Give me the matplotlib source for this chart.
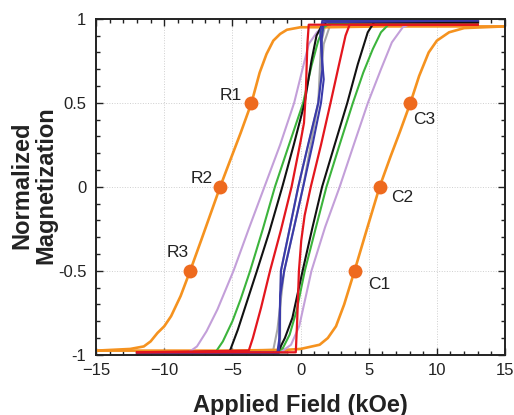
import matplotlib
matplotlib.use("Agg")
import matplotlib.pyplot as plt
from matplotlib.ticker import MultipleLocator

# --- loop data: (field in kOe, normalized M) ---
# outer loop (orange), descending then ascending branch
H_or_dn = [15, 6, 2, 0, -1, -1.5, -2, -2.5, -3, -3.6, -4.4, -5.2, -5.9, -6.6, -7.3, -8.1,
           -8.8, -9.5, -10, -10.5, -11, -11.5, -12.5, -15]
M_or_dn = [0.955, 0.955, 0.95, 0.95, 0.935, 0.91, 0.87, 0.79, 0.68, 0.5, 0.32, 0.15, 0.0,
           -0.16, -0.32, -0.5, -0.65, -0.77, -0.83, -0.87, -0.92, -0.95, -0.965, -0.975]
H_or_up = [-15, -5, -1, 0, 1.4, 2.0, 2.6, 3.2, 3.96, 4.8, 5.8, 6.6, 7.3, 8.06, 8.7, 9.4,
           10, 10.9, 12, 15]
M_or_up = [-0.975, -0.975, -0.97, -0.965, -0.94, -0.9, -0.83, -0.7, -0.5, -0.27, 0.0,
           0.18, 0.33, 0.5, 0.66, 0.8, 0.87, 0.92, 0.945, 0.955]

# lavender loop
H_lv_dn = [13, 2.5, 1.8, 1.2, 0.6, -0.47, -1.5, -2.65, -3.8, -4.92, -6.1, -6.9, -7.6, -8.2, -12]
M_lv_dn = [0.975, 0.975, 0.96, 0.92, 0.85, 0.5, 0.25, 0.0, -0.25, -0.5, -0.73, -0.86, -0.95,
           -0.985, -0.99]
H_lv_up = [-12, -2.0, -1.3, -0.7, -0.1, 0.8, 1.8, 2.87, 3.9, 4.94, 5.9, 6.7, 7.5, 8.2, 13]
M_lv_up = [-0.99, -0.99, -0.975, -0.94, -0.83, -0.5, -0.24, 0.0, 0.25, 0.5, 0.7, 0.86, 0.95,
           0.975, 0.975]

# green loop
H_gr_dn = [13, 2.2, 1.7, 1.3, 0.8, 0.19, -0.85, -1.88, -2.8, -3.7, -4.4, -5.0, -5.7, -6.2, -12]
M_gr_dn = [0.975, 0.975, 0.95, 0.87, 0.72, 0.5, 0.25, 0.0, -0.26, -0.5, -0.67, -0.8, -0.92,
           -0.98, -0.99]
H_gr_up = [-12, -1.8, -1.3, -0.8, -0.3, 0.31, 1.1, 1.9, 2.9, 3.84, 4.6, 5.3, 5.9, 6.5, 13]
M_gr_up = [-0.99, -0.99, -0.96, -0.88, -0.74, -0.5, -0.25, 0.0, 0.26, 0.5, 0.68, 0.82, 0.92,
           0.97, 0.975]

# black loop
H_bk_dn = [13, 1.9, 1.5, 1.17, 0.8, 0.3, -0.5, -1.34, -2.3, -3.2, -4.0, -4.6, -5.2, -12]
M_bk_dn = [0.98, 0.98, 0.95, 0.9, 0.75, 0.5, 0.25, 0.0, -0.27, -0.5, -0.7, -0.85, -0.98, -0.99]
H_bk_up = [-12, -1.7, -1.15, -0.6, 0.15, 0.85, 1.58, 2.5, 3.43, 4.2, 4.93, 5.4, 13]
M_bk_up = [-0.99, -0.99, -0.9, -0.78, -0.5, -0.25, 0.0, 0.25, 0.5, 0.73, 0.92, 0.98, 0.98]

# blue loop (narrow, with small hooks)
H_bl_dn = [13, 1.6, 1.45, 1.55, 1.7, 1.5, 0.9, 0.19, -0.5, -1.2, -1.5, -1.55, -1.7, -12]
M_bl_dn = [0.99, 0.99, 0.92, 0.78, 0.64, 0.5, 0.26, 0.0, -0.25, -0.5, -0.65, -0.9, -0.985, -0.99]
H_bl_up = [-12, -1.6, -1.55, -1.5, -1.44, -0.8, -0.17, 0.55, 1.3, 1.6, 1.55, 1.7, 13]
M_bl_up = [-0.99, -0.99, -0.9, -0.68, -0.5, -0.25, 0.0, 0.25, 0.5, 0.7, 0.88, 0.98, 0.99]

# red loop (square-ish)
H_rd_dn = [13, 0.6, 0.5, 0.38, 0.25, 0.0, -0.66, -1.45, -2.24, -2.9, -3.5, -3.8, -12]
M_rd_dn = [0.965, 0.965, 0.85, 0.55, 0.38, 0.27, 0.0, -0.26, -0.5, -0.72, -0.9, -0.975, -0.985]
H_rd_up = [-12, -0.35, -0.25, -0.12, 0.05, 0.3, 0.75, 1.5, 2.2, 2.8, 3.3, 3.6, 13]
M_rd_up = [-0.985, -0.985, -0.8, -0.5, -0.32, -0.17, 0.0, 0.25, 0.5, 0.72, 0.9, 0.965, 0.965]

# gray loop (mostly hidden behind the blue one)
H_gy_dn = [13, 2.2, 1.8, 1.5, 1.3, 0.19, -1.2, -1.7, -2.0, -12]
M_gy_dn = [0.985, 0.985, 0.96, 0.85, 0.5, 0.0, -0.5, -0.85, -0.97, -0.99]
H_gy_up = [-12, -1.0, -1.5, -1.5, -1.44, -0.17, 1.3, 1.7, 2.2, 13]
M_gy_up = [-0.99, -0.99, -0.95, -0.8, -0.5, 0.0, 0.5, 0.85, 0.97, 0.985]

# marked points on the outer loop
pt_names = ["R1", "R2", "R3", "C1", "C2", "C3"]
pt_H = [-3.6, -5.9, -8.1, 3.96, 5.8, 8.06]
pt_M = [0.5, 0.0, -0.5, -0.5, 0.0, 0.5]

x_ticks = [-15, -10, -5, 0, 5, 10, 15]
y_ticks = [-1, -0.5, 0, 0.5, 1]
y_ticklabels = ['-1', '-0.5', '0', '0.5', '1']

plt.rcParams['font.family'] = ['Liberation Sans', 'DejaVu Sans']

fig = plt.figure(figsize=(5.14, 4.15), dpi=100)
ax = fig.add_axes([0.187, 0.145, 0.7955, 0.8096])

loops = [
    (H_gy_dn, M_gy_dn, H_gy_up, M_gy_up, '#a8a8a8', 1.5),
    (H_or_dn, M_or_dn, H_or_up, M_or_up, '#f5921f', 1.9),
    (H_lv_dn, M_lv_dn, H_lv_up, M_lv_up, '#c39fd9', 1.5),
    (H_gr_dn, M_gr_dn, H_gr_up, M_gr_up, '#3cb43c', 1.5),
    (H_bk_dn, M_bk_dn, H_bk_up, M_bk_up, '#111111', 1.5),
    (H_bl_dn, M_bl_dn, H_bl_up, M_bl_up, '#3a3aaa', 1.5),
    (H_rd_dn, M_rd_dn, H_rd_up, M_rd_up, '#e3161e', 1.6),
]
for z, (hd, md, hu, mu, col, lw) in enumerate(loops):
    ax.plot(hd, md, color=col, lw=lw, zorder=2 + z * 0.1)
    ax.plot(hu, mu, color=col, lw=lw, zorder=2 + z * 0.1)

ax.plot(pt_H, pt_M, 'o', color='#ee6a1e', ms=10, mec='none', zorder=5)

# label offsets (points) for each marker
offsets = [(-15, 5), (-13, 6), (-9, 13), (18, -10), (16, -8), (10, -12)]
for name, h, m, off in zip(pt_names, pt_H, pt_M, offsets):
    ax.annotate(name, xy=(h, m), xytext=off, textcoords='offset points',
                ha='center', va='center', fontsize=12.5, color='#222222')

ax.set_xlim(-15, 15)
ax.set_ylim(-1, 1)
ax.set_xticks(x_ticks)
ax.set_yticks(y_ticks)
ax.set_yticklabels(y_ticklabels)
ax.xaxis.set_minor_locator(MultipleLocator(1))
ax.yaxis.set_minor_locator(MultipleLocator(0.1))

ax.tick_params(which='both', direction='in', top=True, right=True, colors='#222222')
ax.tick_params(which='major', length=5, width=1.0, labelsize=12)
ax.tick_params(which='minor', length=3, width=1.0)
ax.tick_params(axis='x', pad=6)
ax.tick_params(axis='y', pad=7)
for s in ax.spines.values():
    s.set_linewidth(1.4)
    s.set_color('#222222')

ax.grid(True, which='major', color='#cfcfcf', linestyle=':', linewidth=0.7)
ax.set_axisbelow(True)

fig.text(0.584, 1 - 411.5 / 415, 'Applied Field (kOe)', ha='center', va='baseline',
         fontsize=17, fontweight='bold', color='#222222')
fig.text(0.066, 0.553, 'Normalized\nMagnetization', ha='center', va='center',
         rotation=90, fontsize=17, fontweight='bold', color='#222222', linespacing=1.05)

fig.savefig('out.png', dpi=100)
plt.close(fig)
